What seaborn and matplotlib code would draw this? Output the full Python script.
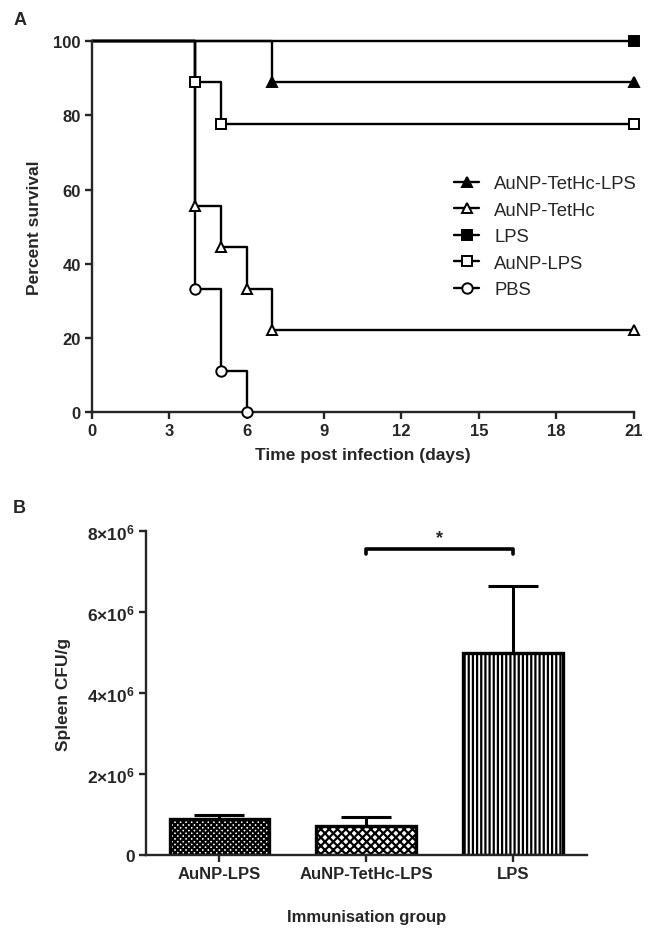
import numpy as np
import pandas as pd
import matplotlib
matplotlib.use("Agg")
import matplotlib.pyplot as plt
from matplotlib.lines import Line2D
import seaborn as sns

# ---- Panel A: survival data (days, percent survival) ----
groups = ["AuNP-TetHc-LPS", "AuNP-TetHc", "LPS", "AuNP-LPS", "PBS"]
days_tethc_lps = [0, 7, 21]
surv_tethc_lps = [100, 88.9, 88.9]
days_tethc = [0, 4, 5, 6, 7, 21]
surv_tethc = [100, 55.6, 44.4, 33.3, 22.2, 22.2]
days_lps = [0, 21]
surv_lps = [100, 100]
days_aunp_lps = [0, 4, 5, 21]
surv_aunp_lps = [100, 88.9, 77.8, 77.8]
days_pbs = [0, 4, 5, 6]
surv_pbs = [100, 33.3, 11.1, 0]

# ---- Panel B: spleen CFU/g ----
bar_groups = ["AuNP-LPS", "AuNP-TetHc-LPS", "LPS"]
bar_means = [0.89e6, 0.71e6, 4.99e6]
bar_err = [0.10e6, 0.23e6, 1.65e6]

sns.set_theme(style="ticks")
plt.rcParams["font.family"] = ["Liberation Sans", "DejaVu Sans"]
plt.rcParams["mathtext.fontset"] = "custom"
plt.rcParams["mathtext.rm"] = "Liberation Sans"
plt.rcParams["mathtext.bf"] = "Liberation Sans:bold"
plt.rcParams["hatch.linewidth"] = 1.6
plt.rcParams["hatch.color"] = "black"

fig = plt.figure(figsize=(6.56, 9.37), dpi=100)
axA = fig.add_axes([0.140, 0.559, 0.826, 0.396])
axB = fig.add_axes([0.2226, 0.0864, 0.672, 0.346])

# survival curves
series = [
    (days_tethc_lps, surv_tethc_lps, "^", "black"),
    (days_tethc, surv_tethc, "^", "white"),
    (days_lps, surv_lps, "s", "black"),
    (days_aunp_lps, surv_aunp_lps, "s", "white"),
    (days_pbs, surv_pbs, "o", "white"),
]
rows = []
for name, (d, s, m, fc) in zip(groups, series):
    for di, si in zip(d, s):
        rows.append({"group": name, "day": di, "survival": si})
df_surv = pd.DataFrame(rows)

for name, (d, s, m, fc) in zip(groups, series):
    sub = df_surv[df_surv["group"] == name]
    sns.lineplot(data=sub, x="day", y="survival", ax=axA, color="black",
                 linewidth=1.7, drawstyle="steps-post", clip_on=False,
                 estimator=None, sort=False)
    pts = sub.iloc[1:]
    axA.plot(pts["day"], pts["survival"], linestyle="none", marker=m,
             markersize=7.5, markerfacecolor=fc, markeredgecolor="black",
             markeredgewidth=1.4, clip_on=False, zorder=5)

axA.set_xlim(0, 21)
axA.set_ylim(0, 100)
axA.set_xticks(range(0, 22, 3))
axA.set_yticks(range(0, 101, 20))
axA.set_xlabel("Time post infection (days)", fontsize=12.5, fontweight="bold", labelpad=6)
axA.set_ylabel("Percent survival", fontsize=12.5, fontweight="bold", labelpad=8)
sns.despine(ax=axA)
for sp in ["left", "bottom"]:
    axA.spines[sp].set_linewidth(1.7)
axA.tick_params(width=1.7, length=5, labelsize=12, pad=3)
for lab in axA.get_xticklabels() + axA.get_yticklabels():
    lab.set_fontweight("bold")

handles = [Line2D([], [], color="black", linewidth=1.7, marker=m, markersize=7.5,
                  markerfacecolor=fc, markeredgecolor="black", markeredgewidth=1.4)
           for (d, s, m, fc) in series]
axA.legend(handles, groups, loc="upper left", bbox_to_anchor=(0.637, 0.684),
           frameon=False, fontsize=13.3, handlelength=1.4, handletextpad=0.8,
           labelspacing=0.52)

fig.text(0.02, 0.978, "A", fontsize=13, fontweight="bold", va="center")
fig.text(0.02, 0.457, "B", fontsize=13, fontweight="bold", va="center")

# bar chart
df_bar = pd.DataFrame({"group": bar_groups, "cfu": bar_means})
sns.barplot(data=df_bar, x="group", y="cfu", ax=axB, color="white",
            edgecolor="black", linewidth=2.4, width=0.68, errorbar=None)
hatches = ["xxxxxx", "xxxx", "||||"]
for patch, h in zip(axB.patches, hatches):
    patch.set_hatch(h)
axB.errorbar(range(len(bar_groups)), bar_means, yerr=[[0] * 3, bar_err],
             fmt="none", ecolor="black", elinewidth=2.2, capsize=18,
             capthick=2.2, zorder=1)

axB.set_xlim(-0.5, 2.5)
axB.set_ylim(0, 8e6)
axB.set_yticks([0, 2e6, 4e6, 6e6, 8e6])
axB.set_yticklabels(["0", r"$\mathbf{2{\times}10^6}$", r"$\mathbf{4{\times}10^6}$",
                     r"$\mathbf{6{\times}10^6}$", r"$\mathbf{8{\times}10^6}$"])
axB.set_xlabel("Immunisation group", fontsize=12, fontweight="bold", labelpad=20)
axB.set_ylabel("Spleen CFU/g", fontsize=12.5, fontweight="bold", labelpad=12)
sns.despine(ax=axB)
for sp in ["left", "bottom"]:
    axB.spines[sp].set_linewidth(1.7)
axB.tick_params(width=1.7, length=5, pad=3)
axB.tick_params(axis="x", labelsize=12)
axB.tick_params(axis="y", labelsize=12.5)
for lab in axB.get_xticklabels() + axB.get_yticklabels():
    lab.set_fontweight("bold")

# significance bracket
yb = 7.55e6
axB.plot([1, 1, 2, 2], [yb - 0.12e6, yb, yb, yb - 0.12e6], color="black",
         linewidth=2.6, clip_on=False)
axB.text(1.5, yb + 0.08e6, "*", ha="center", va="bottom", fontsize=13,
         fontweight="bold")

fig.savefig("out.png", dpi=100)
